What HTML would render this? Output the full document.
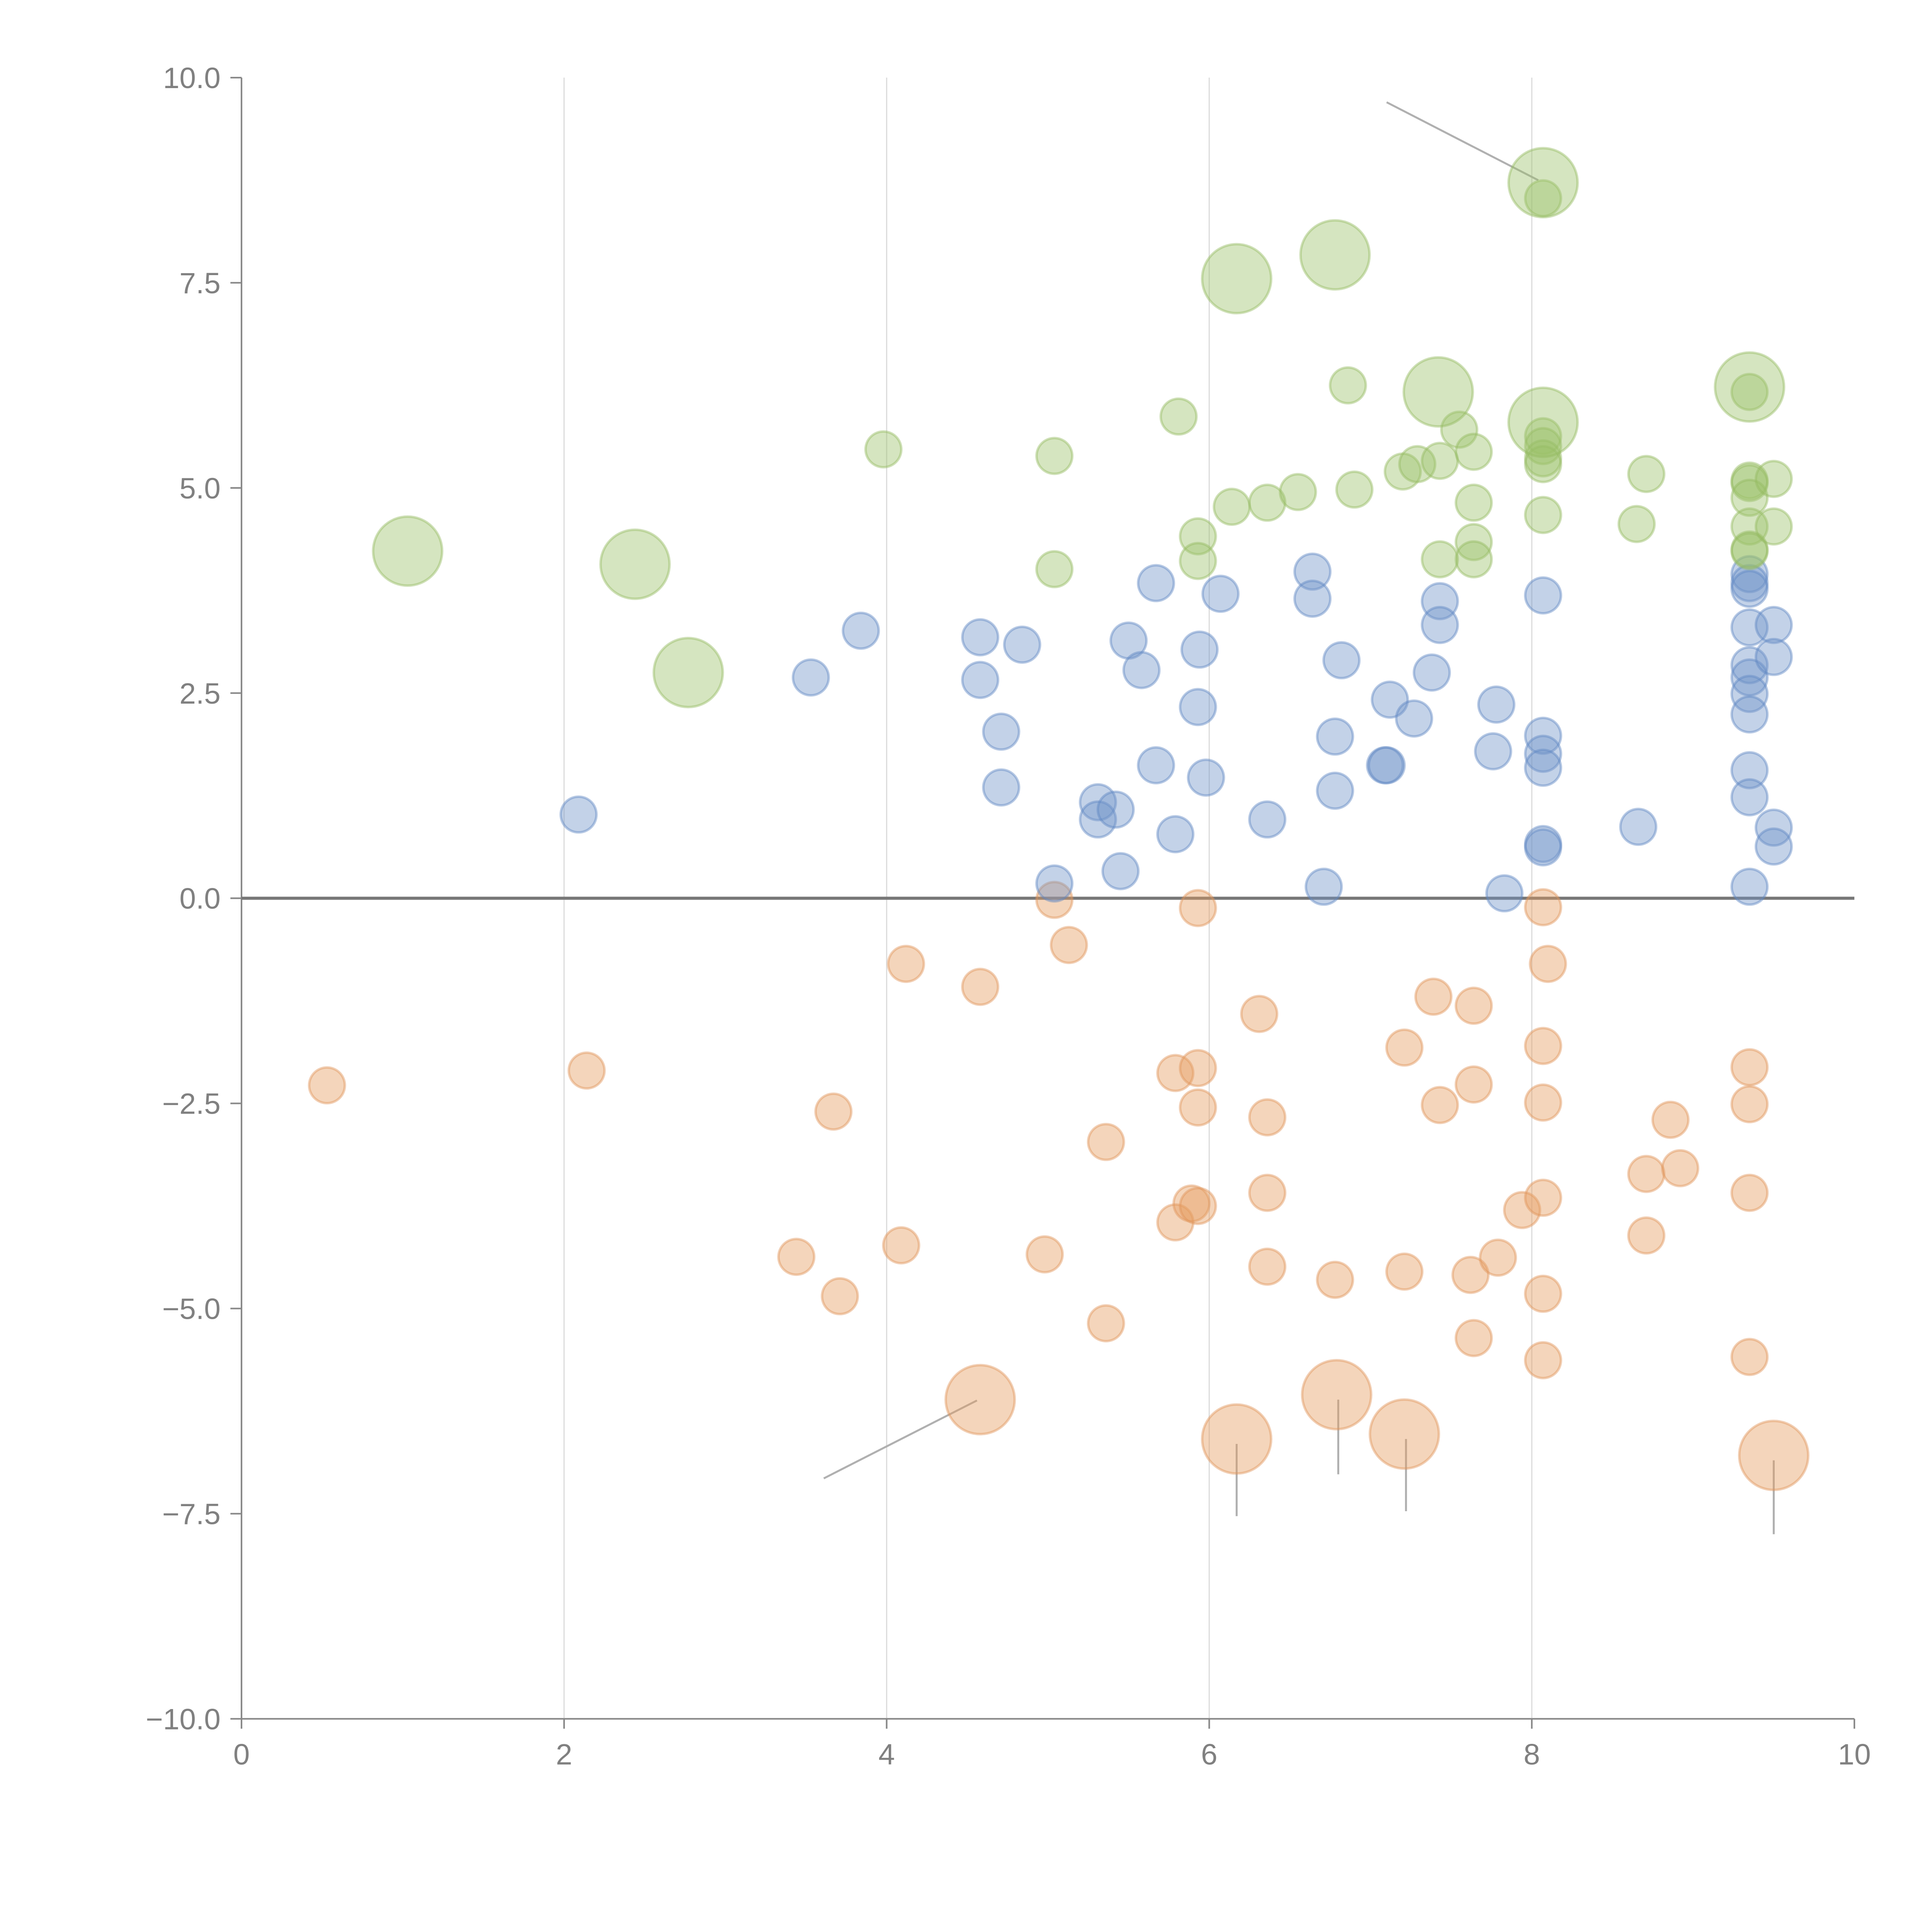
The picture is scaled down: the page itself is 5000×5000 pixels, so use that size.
<!DOCTYPE html>
<html><head><meta charset="utf-8"><style>html,body{margin:0;padding:0;background:#fff}svg{display:block}</style></head>
<body>
<svg id="chart" width="5000" height="5000" viewBox="0 0 1568 1568" xmlns="http://www.w3.org/2000/svg" font-family="'Liberation Sans', sans-serif">
<g id="grid"></g>
<g id="axes"></g>
<g id="leaders"></g>
<g id="marks"></g>
</svg>
<script>
const xTicks=[0,2,4,6,8,10];
const yTicks=[-10,-7.5,-5,-2.5,0,2.5,5,7.5,10];
const greenX=[3.98,5.04,5.81,6.86,5.04,5.93,5.93,6.14,6.36,6.55,6.90,7.20,7.29,7.43,7.55,7.64,7.64,7.64,7.64,7.43,8.07,8.07,8.07,8.07,8.07,8.07,8.65,8.71,9.35,9.35,9.35,9.35,9.35,9.35,9.35,9.50,9.50,1.03,2.44,2.77,6.17,6.78,7.42,8.07,8.07,9.35];
const greenY=[5.47,5.39,5.87,6.25,4.01,4.41,4.11,4.77,4.82,4.95,4.98,5.20,5.29,5.33,5.71,5.44,4.82,4.34,4.13,4.13,8.53,5.63,5.51,5.36,5.29,4.67,4.56,5.17,6.17,5.09,5.06,4.88,4.53,4.25,4.23,5.11,4.53,4.23,4.07,2.75,7.55,7.84,6.17,8.72,5.80,6.23];
const greenS=[1,1,1,1,1,1,1,1,1,1,1,1,1,1,1,1,1,1,1,1,1,1,1,1,1,1,1,1,1,1,1,1,1,1,1,1,1,2,2,2,2,2,2,2,2,2];
const blueX=[2.09,3.53,3.84,4.58,4.58,4.84,4.71,4.71,5.04,5.31,5.31,5.42,5.45,5.50,5.58,5.67,5.67,5.79,5.93,5.94,5.98,6.07,6.36,6.64,6.64,6.71,6.78,6.78,6.82,7.09,7.10,7.12,7.27,7.38,7.43,7.43,7.76,7.78,7.83,8.07,8.07,8.07,8.07,8.07,8.07,8.66,9.35,9.35,9.35,9.35,9.35,9.35,9.35,9.35,9.35,9.35,9.35,9.50,9.50,9.50,9.50];
const blueY=[1.02,2.69,3.26,3.18,2.66,3.09,2.03,1.35,0.18,1.17,0.96,1.08,0.33,3.14,2.78,3.84,1.62,0.78,2.33,3.03,1.47,3.71,0.96,3.98,3.65,0.14,1.97,1.31,2.90,1.62,1.62,2.42,2.19,2.75,3.62,3.33,1.79,2.36,0.06,3.69,1.98,1.76,1.59,0.66,0.62,0.87,3.95,3.84,3.77,3.30,2.84,2.69,2.49,2.24,1.56,1.23,0.14,3.33,2.94,0.86,0.63];
const orangeX=[0.53,2.14,3.67,3.44,3.71,4.09,4.12,4.58,4.98,5.04,5.13,5.36,5.36,5.79,5.79,5.89,5.93,5.93,5.93,5.93,6.31,6.36,6.36,6.36,6.78,7.21,7.21,7.39,7.43,7.62,7.64,7.64,7.64,7.79,7.94,8.07,8.10,8.07,8.07,8.07,8.07,8.07,8.71,8.71,8.86,8.92,9.35,9.35,9.35,9.35,4.58,6.17,6.79,7.21,9.50];
const orangeY=[-2.28,-2.10,-2.60,-4.37,-4.85,-4.23,-0.80,-1.08,-4.34,-0.02,-0.57,-2.97,-5.18,-2.13,-3.95,-3.72,-0.12,-2.07,-2.55,-3.75,-1.41,-2.67,-3.59,-4.49,-4.65,-1.82,-4.55,-1.20,-2.52,-4.59,-1.31,-2.27,-5.36,-4.38,-3.80,-0.11,-0.80,-1.80,-2.49,-3.65,-4.82,-5.63,-3.36,-4.11,-2.70,-3.29,-2.06,-2.51,-3.59,-5.59,-6.11,-6.59,-6.05,-6.53,-6.79];
const orangeS=[1,1,1,1,1,1,1,1,1,1,1,1,1,1,1,1,1,1,1,1,1,1,1,1,1,1,1,1,1,1,1,1,1,1,1,1,1,1,1,1,1,1,1,1,1,1,1,1,1,1,2,2,2,2,2];
const leaderX1=[7.10,3.61,6.17,6.80,7.22,9.50];
const leaderY1=[9.70,-7.07,-6.65,-6.11,-6.59,-6.85];
const leaderX2=[8.04,4.56,6.17,6.80,7.22,9.50];
const leaderY2=[8.75,-6.12,-7.53,-7.02,-7.47,-7.75];

const NS='http://www.w3.org/2000/svg';
const X=v=>196+v*130.9, Y=v=>729-v*66.6;
const R=s=>s===2?28:14.5;
function mk(p,t,a){const e=document.createElementNS(NS,t);for(const k in a)e.setAttribute(k,a[k]);p.appendChild(e);return e;}
const grid=document.getElementById('grid'),axes=document.getElementById('axes'),marks=document.getElementById('marks'),lead=document.getElementById('leaders');
xTicks.forEach(t=>{
 if(t>0&&t<10){const g=mk(grid,'line',{x1:X(t),x2:X(t),y1:Y(10),y2:Y(-10),stroke:'#dddddd','stroke-width':1});
 
 }
 const tk=mk(axes,'line',{x1:X(t),x2:X(t),y1:Y(-10),y2:Y(-10)+8,stroke:'#888','stroke-width':1.3});
 
 
 const tx=mk(axes,'text',{x:X(t),y:Y(-10)+37,'text-anchor':'middle','font-size':24,fill:'#808080'});
 tx.textContent=String(t);
 
 
});
yTicks.forEach(t=>{
 const tk=mk(axes,'line',{x1:X(0)-9,x2:X(0),y1:Y(t),y2:Y(t),stroke:'#888','stroke-width':1.3});
 
 
 const tx=mk(axes,'text',{x:X(0)-17,y:Y(t)+8.5,'text-anchor':'end','font-size':24,fill:'#808080'});
 tx.textContent=t.toFixed(1).replace('-','\u2212');
 
 
});
let a=mk(axes,'line',{x1:X(0),x2:X(0),y1:Y(10),y2:Y(-10),stroke:'#888','stroke-width':1.3});


a=mk(axes,'line',{x1:X(0),x2:X(10),y1:Y(-10),y2:Y(-10),stroke:'#888','stroke-width':1.3});


a=mk(axes,'line',{x1:X(0),x2:X(10),y1:Y(0),y2:Y(0),stroke:'#777','stroke-width':2.5});


leaderX1.forEach((v,i)=>{
 const l=mk(lead,'line',{x1:X(v),y1:Y(leaderY1[i]),x2:X(leaderX2[i]),y2:Y(leaderY2[i]),stroke:'#b0b0b0','stroke-width':1.6});
 
 
});
function series(xs,ys,ss,fill,stroke,name){
 xs.forEach((v,i)=>{
  const c=mk(marks,'circle',{cx:X(v),cy:Y(ys[i]),r:R(ss?ss[i]:1),fill:fill,'fill-opacity':0.42,stroke:stroke,'stroke-opacity':0.45,'stroke-width':2});
  
  
 });
}
series(orangeX,orangeY,orangeS,'#e49a5c','#e0945a','orange-bubble');
series(blueX,blueY,null,'#6f93c9','#5f88c4','blue-bubble');
series(greenX,greenY,greenS,'#9bc06a','#94bb62','green-bubble');
</script>
</body></html>
